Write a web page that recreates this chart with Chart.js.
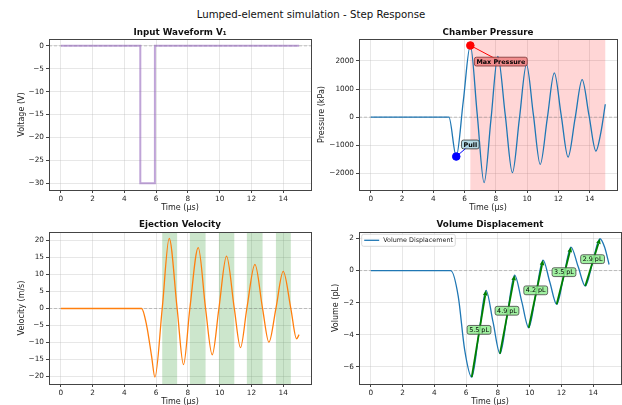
<!DOCTYPE html>
<html lang="en">
<head>
<meta charset="UTF-8">
<title>Lumped-element simulation - Step Response</title>
<script src="https://cdn.jsdelivr.net/npm/chart.js"></script>
<style>
  body { margin: 0; width: 622px; height: 405px; overflow: hidden; background: #fff; position: relative; font-family: "DejaVu Sans", sans-serif; }
  #suptitle { position: absolute; left: 0; top: 9px; width: 622px; text-align: center; font-size: 10.2px; line-height: 12px; color: #111; }
  .panel { position: absolute; }
</style>
</head>
<body>
<div id="suptitle">Lumped-element simulation - Step Response</div>
<div class="panel" style="left:0;top:20px;width:316px;height:193px"><canvas id="chartInput"></canvas></div>
<div class="panel" style="left:311px;top:20px;width:311px;height:193px"><canvas id="chartPressure"></canvas></div>
<div class="panel" style="left:0;top:213px;width:316px;height:194px"><canvas id="chartVelocity"></canvas></div>
<div class="panel" style="left:311px;top:213px;width:311px;height:194px"><canvas id="chartVolume"></canvas></div>

<script>
// ---- data ----
const timeTicks = [0, 2, 4, 6, 8, 10, 12, 14];

const inputT = [0, 5.0, 5.0, 5.92, 5.92, 15];
const inputV = [0, 0, -30, -30, 0, 0];
const inputTicks = [-30, -25, -20, -15, -10, -5, 0];

const pressureT = [0, 5.0, 5.47, 5.92, 6.37, 6.81, 7.25, 7.69, 8.13, 8.60, 9.06, 9.51, 9.96, 10.40, 10.84, 11.29, 11.74, 12.18, 12.62, 13.07, 13.52, 13.96, 14.40, 14.72, 15.0];
const pressureP = [0, 0, -1400, 575, 2550, 110, -2330, -80, 2165, 95, -1975, -45, 1880, 100, -1680, -50, 1575, 75, -1420, -40, 1335, 65, -1205, -540, 460];
const pressureTicks = [-2000, -1000, 0, 1000, 2000];
const maxPoint = [6.37, 2550];
const pullPoint = [5.47, -1400];
const maxLabelAt = [8.32, 1976];
const pullLabelAt = [6.37, -970];
const pinkSpan = [6.37, 15.0];

const velocityT = [0, 5.08, 5.4, 5.71, 5.92, 6.38, 6.82, 7.32, 7.72, 8.12, 8.65, 9.11, 9.53, 9.95, 10.43, 10.92, 11.31, 11.71, 12.22, 12.70, 13.10, 13.54, 14.0, 14.48, 14.84, 15.0];
const velocityV = [0, 0, -5, -14, -20.2, 0, 20.6, 0, -16.5, 0, 17.9, 0, -13.6, 0, 15.4, 0, -11.5, 0, 13.0, 0, -9.9, 0, 10.9, 0, -8.9, -7.7];
const velocityTicks = [-20, -15, -10, -5, 0, 5, 10, 15, 20];
const ejectStart = [6.38, 8.12, 9.95, 11.71, 13.54];
const ejectEnd = [7.32, 9.11, 10.92, 12.70, 14.48];

const volumeT = [0, 5.03, 5.5, 5.9, 6.35, 6.80, 7.25, 7.69, 8.13, 8.59, 9.05, 9.50, 9.94, 10.39, 10.84, 11.27, 11.70, 12.15, 12.60, 13.05, 13.50, 13.96, 14.42, 14.72, 15.0];
const volumeV = [0, 0, -1.6, -4.9, -6.63, -3.93, -1.23, -3.2, -5.17, -2.73, -0.29, -1.93, -3.56, -1.46, 0.65, -0.73, -2.10, -0.32, 1.46, 0.25, -0.96, 0.51, 1.98, 1.45, 0.375];
const volumeTicks = [-6, -4, -2, 0, 2];
const riseFromT = [6.35, 8.13, 9.94, 11.70, 13.50];
const riseFromV = [-6.63, -5.17, -3.56, -2.10, -0.96];
const riseToT = [7.25, 9.05, 10.84, 12.60, 14.42];
const riseToV = [-1.23, -0.29, 0.65, 1.46, 1.98];
const riseLabels = ['5.5 pL', '4.9 pL', '4.2 pL', '3.5 pL', '2.9 pL'];
const riseLabelT = [6.81, 8.57, 10.38, 12.16, 13.96];
const riseLabelV = [-3.69, -2.5, -1.23, -0.1, 0.71];

// ---- common styling ----
Chart.defaults.font.family = '"DejaVu Sans", sans-serif';
Chart.defaults.color = '#222';
Chart.defaults.animation = false;

const FONT = '"DejaVu Sans", sans-serif';
const gridColor = 'rgba(176,176,176,0.3)';
const X_MIN = -0.75, X_MAX = 15.75;

function fmt(v) {
    return v < 0 ? '\u2212' + Math.abs(v) : String(v);
}

function pts(xs, ys) {
    return xs.map((x, i) => ({ x: x, y: ys[i] }));
}

function timeAxis() {
    return {
        type: 'linear', min: X_MIN, max: X_MAX,
        afterBuildTicks: s => { s.ticks = timeTicks.map(v => ({ value: v })); },
        afterFit: s => { s.height = 23; },
        ticks: { font: { size: 7.3 }, padding: 2, callback: fmt, maxRotation: 0, autoSkip: false },
        grid: { color: gridColor, tickColor: '#444', tickLength: 3 },
        border: { display: false },
        title: { display: true, text: 'Time (μs)', font: { size: 8 }, padding: { top: 0, bottom: 0.5 } }
    };
}

function valueAxis(label, min, max, ticks, width, titlePad) {
    return {
        type: 'linear', min: min, max: max,
        afterBuildTicks: s => { s.ticks = ticks.map(v => ({ value: v })); },
        afterFit: s => { s.width = width; },
        ticks: { font: { size: 7.3 }, padding: 2, callback: fmt, autoSkip: false },
        grid: { color: gridColor, tickColor: '#444', tickLength: 3 },
        border: { display: false },
        title: { display: true, text: label, font: { size: 8 }, padding: { top: titlePad, bottom: 0 } }
    };
}

function panelTitle(text, top) {
    return {
        display: true, text: text, fullSize: false,
        font: { size: 8.75, weight: 'bold' }, color: '#111',
        padding: top ? { top: 7, bottom: 1.5 } : { top: 6.75, bottom: 1.75 }
    };
}

function curve(data, color, width) {
    return {
        data: data, borderColor: color, borderWidth: width, pointRadius: 0,
        fill: false, cubicInterpolationMode: 'monotone', order: 1
    };
}

function zeroLine() {
    return {
        data: [{ x: X_MIN, y: 0 }, { x: X_MAX, y: 0 }],
        borderColor: 'rgba(128,128,128,0.55)', borderWidth: 0.8, borderDash: [3, 2],
        pointRadius: 0, fill: false, order: 2
    };
}

const framePlugin = {
    id: 'frame',
    afterDatasetsDraw(chart) {
        const { ctx, chartArea: a } = chart;
        ctx.save();
        ctx.strokeStyle = '#444';
        ctx.lineWidth = 1;
        ctx.strokeRect(Math.round(a.left) + 0.5, Math.round(a.top) + 0.5,
            Math.round(a.right - a.left), Math.round(a.bottom - a.top));
        ctx.restore();
    }
};

function spanPlugin(starts, ends, color) {
    return {
        id: 'spans',
        beforeDatasetsDraw(chart) {
            const { ctx, chartArea: a, scales: { x } } = chart;
            ctx.save();
            ctx.beginPath();
            ctx.rect(a.left, a.top, a.right - a.left, a.bottom - a.top);
            ctx.clip();
            ctx.fillStyle = color;
            starts.forEach((s, i) => {
                const x0 = x.getPixelForValue(s), x1 = x.getPixelForValue(ends[i]);
                ctx.fillRect(x0, a.top, x1 - x0, a.bottom - a.top);
            });
            ctx.restore();
        }
    };
}

function labelBox(ctx, cx, cy, text, bold, fill, stroke) {
    ctx.font = (bold ? 'bold ' : '') + '6.4px ' + FONT;
    const w = ctx.measureText(text).width + 4, h = 8.8;
    ctx.beginPath();
    ctx.roundRect(cx - w / 2, cy - h / 2, w, h, 2);
    ctx.fillStyle = fill;
    ctx.fill();
    ctx.strokeStyle = stroke;
    ctx.lineWidth = 0.8;
    ctx.stroke();
    ctx.fillStyle = '#000';
    ctx.textAlign = 'center';
    ctx.textBaseline = 'middle';
    ctx.fillText(text, cx, cy + 0.4);
}

const baseOptions = (right) => ({
    responsive: true, maintainAspectRatio: false, events: [],
    layout: { padding: { left: 0, right: right, top: 0, bottom: 0 } }
});

// ---- Input waveform ----
new Chart(document.getElementById('chartInput'), {
    type: 'line',
    data: {
        datasets: [
            { data: pts(inputT, inputV), borderColor: 'rgba(148,103,189,0.6)', borderWidth: 2, pointRadius: 0, fill: false, order: 1 },
            zeroLine()
        ]
    },
    options: Object.assign(baseOptions(5), {
        scales: { x: timeAxis(), y: valueAxis('Voltage (V)', -31.5, 1.5, inputTicks, 49, 16.9) },
        plugins: { legend: { display: false }, tooltip: { enabled: false }, title: panelTitle('Input Waveform V\u2081', true) }
    }),
    plugins: [framePlugin]
});

// ---- Chamber pressure ----
new Chart(document.getElementById('chartPressure'), {
    type: 'line',
    data: {
        datasets: [
            { data: [{ x: maxPoint[0], y: maxPoint[1] }], borderColor: 'red', backgroundColor: 'red', pointRadius: 3.8, showLine: false, order: 0 },
            { data: [{ x: pullPoint[0], y: pullPoint[1] }], borderColor: 'blue', backgroundColor: 'blue', pointRadius: 3.8, showLine: false, order: 0 },
            curve(pts(pressureT, pressureP), '#1f77b4', 1.3),
            zeroLine()
        ]
    },
    options: Object.assign(baseOptions(1), {
        scales: { x: timeAxis(), y: valueAxis('Pressure (kPa)', -2590, 2780, pressureTicks, 48, 6.2) },
        plugins: { legend: { display: false }, tooltip: { enabled: false }, title: panelTitle('Chamber Pressure', true) }
    }),
    plugins: [
        spanPlugin([pinkSpan[0]], [pinkSpan[1]], 'rgba(255,0,0,0.16)'),
        framePlugin,
        {
            id: 'notes',
            beforeDatasetsDraw(chart) {
                const { ctx, scales: { x, y } } = chart;
                const notes = [[maxLabelAt, maxPoint, 'red'], [pullLabelAt, pullPoint, 'blue']];
                ctx.save();
                notes.forEach(n => {
                    ctx.strokeStyle = n[2];
                    ctx.lineWidth = 1;
                    ctx.beginPath();
                    ctx.moveTo(x.getPixelForValue(n[0][0]), y.getPixelForValue(n[0][1]));
                    ctx.lineTo(x.getPixelForValue(n[1][0]), y.getPixelForValue(n[1][1]));
                    ctx.stroke();
                });
                ctx.restore();
            },
            afterDatasetsDraw(chart) {
                const { ctx, scales: { x, y } } = chart;
                ctx.save();
                labelBox(ctx, x.getPixelForValue(maxLabelAt[0]), y.getPixelForValue(maxLabelAt[1]), 'Max Pressure', true, 'rgba(240,128,128,0.85)', '#7a3030');
                labelBox(ctx, x.getPixelForValue(pullLabelAt[0]), y.getPixelForValue(pullLabelAt[1]), 'Pull', true, 'rgba(173,216,230,0.9)', '#333');
                ctx.restore();
            }
        }
    ]
});

// ---- Ejection velocity ----
new Chart(document.getElementById('chartVelocity'), {
    type: 'line',
    data: {
        datasets: [
            curve(pts(velocityT, velocityV), '#ff7f0e', 1.3),
            zeroLine()
        ]
    },
    options: Object.assign(baseOptions(5), {
        scales: { x: timeAxis(), y: valueAxis('Velocity (m/s)', -22.2, 22.5, velocityTicks, 49, 16.9) },
        plugins: { legend: { display: false }, tooltip: { enabled: false }, title: panelTitle('Ejection Velocity', false) }
    }),
    plugins: [spanPlugin(ejectStart, ejectEnd, 'rgba(0,128,0,0.2)'), framePlugin]
});

// ---- Volume displacement ----
new Chart(document.getElementById('chartVolume'), {
    type: 'line',
    data: {
        datasets: [
            curve(pts(volumeT, volumeV), '#1f77b4', 1.3),
            zeroLine()
        ]
    },
    options: Object.assign(baseOptions(1), {
        scales: { x: timeAxis(), y: valueAxis('Volume (pL)', -7.06, 2.4, volumeTicks, 48, 20.2) },
        plugins: { legend: { display: false }, tooltip: { enabled: false }, title: panelTitle('Volume Displacement', false) }
    }),
    plugins: [
        framePlugin,
        {
            id: 'rises',
            afterDatasetsDraw(chart) {
                const { ctx, chartArea: a, scales: { x, y } } = chart;
                ctx.save();
                riseFromT.forEach((t, i) => {
                    const x0 = x.getPixelForValue(t), y0 = y.getPixelForValue(riseFromV[i]);
                    const x1 = x.getPixelForValue(riseToT[i]), y1 = y.getPixelForValue(riseToV[i]);
                    const ang = Math.atan2(y1 - y0, x1 - x0);
                    const hl = 5, hw = 2.3;
                    const bx = x1 - hl * Math.cos(ang), by = y1 - hl * Math.sin(ang);
                    ctx.strokeStyle = '#008000';
                    ctx.fillStyle = '#008000';
                    ctx.lineWidth = 1.8;
                    ctx.beginPath();
                    ctx.moveTo(x0, y0);
                    ctx.lineTo(bx, by);
                    ctx.stroke();
                    ctx.beginPath();
                    ctx.moveTo(x1, y1);
                    ctx.lineTo(bx + hw * Math.sin(ang), by - hw * Math.cos(ang));
                    ctx.lineTo(bx - hw * Math.sin(ang), by + hw * Math.cos(ang));
                    ctx.closePath();
                    ctx.fill();
                });
                riseLabels.forEach((txt, i) => {
                    labelBox(ctx, x.getPixelForValue(riseLabelT[i]), y.getPixelForValue(riseLabelV[i]), txt, false, 'rgba(144,238,144,0.85)', '#444');
                });

                // legend, upper left
                const bx = a.left + 2.7, by = a.top + 2.3, bw = 93.6, bh = 12;
                ctx.beginPath();
                ctx.roundRect(bx, by, bw, bh, 2);
                ctx.fillStyle = 'rgba(255,255,255,0.8)';
                ctx.fill();
                ctx.strokeStyle = '#d0d0d0';
                ctx.lineWidth = 0.8;
                ctx.stroke();
                ctx.strokeStyle = '#1f77b4';
                ctx.lineWidth = 1.3;
                ctx.beginPath();
                ctx.moveTo(bx + 2.5, by + bh / 2);
                ctx.lineTo(bx + 17.5, by + bh / 2);
                ctx.stroke();
                ctx.font = '6.4px ' + FONT;
                ctx.fillStyle = '#222';
                ctx.textAlign = 'left';
                ctx.textBaseline = 'middle';
                ctx.fillText('Volume Displacement', bx + 21.5, by + bh / 2 + 0.4);
                ctx.restore();
            }
        }
    ]
});
</script>
</body>
</html>
